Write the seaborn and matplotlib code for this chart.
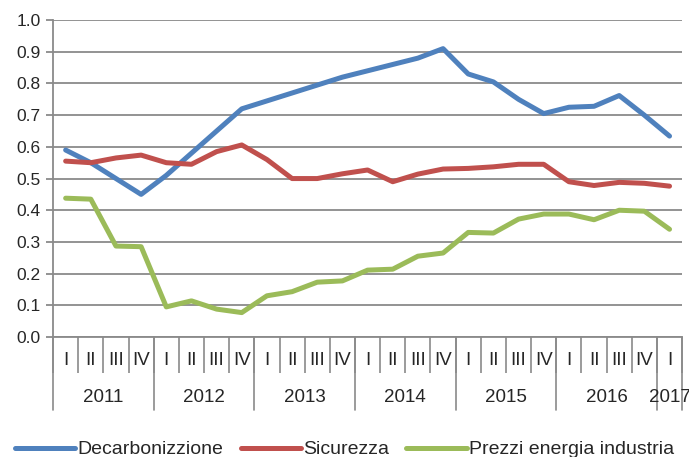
import matplotlib
matplotlib.use("Agg")
import matplotlib.pyplot as plt
import seaborn as sns
import pandas as pd

# dati trimestrali 2011 I - 2017 I
trimestri = ["I", "II", "III", "IV"] * 6 + ["I"]
anni = ["2011", "2012", "2013", "2014", "2015", "2016", "2017"]
decarbonizzazione = [0.59, 0.55, 0.50, 0.45, 0.51, 0.58, 0.65, 0.72, 0.745, 0.77, 0.795, 0.82,
                     0.84, 0.86, 0.88, 0.91, 0.83, 0.805, 0.75, 0.705, 0.725, 0.728, 0.762, 0.70, 0.634]
sicurezza = [0.555, 0.55, 0.565, 0.574, 0.55, 0.545, 0.585, 0.606, 0.56, 0.50, 0.50, 0.515,
             0.527, 0.49, 0.514, 0.53, 0.532, 0.537, 0.545, 0.545, 0.49, 0.478, 0.488, 0.485, 0.476]
prezzi = [0.438, 0.435, 0.287, 0.285, 0.095, 0.114, 0.088, 0.077, 0.13, 0.143, 0.173, 0.177,
          0.211, 0.214, 0.255, 0.265, 0.33, 0.328, 0.372, 0.388, 0.388, 0.37, 0.40, 0.397, 0.34]
serie = ["Decarbonizzione", "Sicurezza", "Prezzi energia industria"]
colori = ["#4F81BD", "#C0504D", "#9BBB59"]

sns.set_theme(style="white")
plt.rcParams["font.family"] = ["Liberation Sans", "DejaVu Sans"]

df = pd.DataFrame({
    "x": list(range(len(trimestri))) * 3,
    "valore": decarbonizzazione + sicurezza + prezzi,
    "serie": [serie[0]] * 25 + [serie[1]] * 25 + [serie[2]] * 25,
})

fig = plt.figure(figsize=(6.89, 4.57), dpi=100)
ax = fig.add_axes([0.077, 0.2626, 0.913, 0.6934])

sns.lineplot(data=df, x="x", y="valore", hue="serie", hue_order=serie, palette=colori,
             linewidth=3.6, ax=ax, legend=True, solid_joinstyle="round", solid_capstyle="round")
handles, labels = ax.get_legend_handles_labels()
ax.get_legend().remove()

grigio = "#8a8a8a"
ax.set_ylim(0, 1.0)
ax.set_xlim(-0.5, len(trimestri) - 0.5)
ax.set_yticks([i / 10 for i in range(11)])
ax.set_yticklabels([f"{i / 10:.1f}" for i in range(11)], fontsize=12.5)
ax.yaxis.grid(True, color=grigio, linewidth=1.3)
ax.set_axisbelow(True)
ax.set_xlabel("")
ax.set_ylabel("")

for s in ["top", "right"]:
    ax.spines[s].set_visible(False)
for s in ["left", "bottom"]:
    ax.spines[s].set_color(grigio)
    ax.spines[s].set_linewidth(1.3)

ax.tick_params(axis="y", which="major", left=True, length=5, width=1.3, color=grigio, pad=4)
ax.set_xticks(range(len(trimestri)))
ax.set_xticklabels(trimestri, fontsize=13.5)
ax.tick_params(axis="x", which="major", length=0, pad=11)
ax.set_xticks([i - 0.5 for i in range(len(trimestri) + 1)], minor=True)
ax.tick_params(axis="x", which="minor", bottom=True, length=26, width=1.2, color=grigio)

# separatori e etichette degli anni
confini = [-0.5, 3.5, 7.5, 11.5, 15.5, 19.5, 23.5, 24.5]
for c in confini:
    ax.axvline(c, ymin=-0.23, ymax=0, color=grigio, linewidth=1.2, clip_on=False)
for i, anno in enumerate(anni):
    centro = (confini[i] + confini[i + 1]) / 2
    ax.text(centro, -0.19, anno, transform=ax.get_xaxis_transform(),
            ha="center", va="center", fontsize=13.5)

fig.legend(handles, labels, loc="center", bbox_to_anchor=(0.5, 0.016), ncol=3,
           frameon=False, fontsize=14, handlelength=3.1, handletextpad=0.1,
           columnspacing=0.9, borderaxespad=0, borderpad=0)

fig.savefig("out.png", dpi=100)
